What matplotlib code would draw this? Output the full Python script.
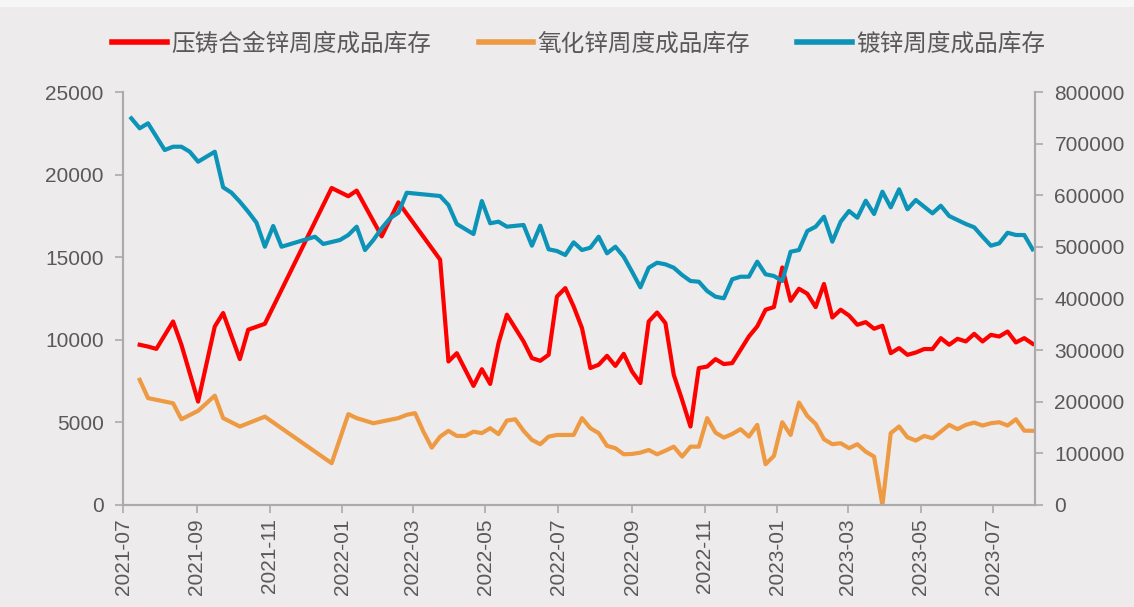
import numpy as np
import pandas as pd
import matplotlib
matplotlib.use("Agg")
import matplotlib.pyplot as plt
import matplotlib.dates as mdates
from matplotlib.patches import Rectangle

plt.rcParams['font.family'] = ['Noto Sans CJK SC', 'DejaVu Sans']

# 周度日期（每周一个点）
start_date = "2021-07-08"
n_weeks = 109
dates = pd.date_range(start_date, periods=n_weeks, freq="7D")

N = None
# 压铸合金锌周度成品库存（左轴）
die_cast = [N, 9700, 9590, 9450, N, 11110, 9700, N, 6260, N,
            10810, 11620, N, 8830, 10610, N, 10970, N, N, N,
            N, N, N, N, 19190, N, 18690, 19030, N, N,
            16260, N, 18320, N, N, N, N, 14850, 8690, 9190,
            N, 7210, 8220, 7330, 9800, 11520, 10710, 9900, 8890, 8730,
            9090, 12620, 13130, 12020, 10710, 8290, 8490, 9030, 8420, 9150,
            8080, 7380, 11110, 11650, 11010, 7880, 6360, 4750, 8290, 8380,
            8830, 8530, 8590, 9390, 10200, 10810, 11820, 11980, 14380, 12360,
            13090, 12790, 11980, 13380, 11350, 11820, 11470, 10910, 11070, 10670,
            10850, 9190, 9500, 9090, 9230, 9440, 9440, 10100, 9700, 10060,
            9900, 10360, 9900, 10300, 10200, 10500, 9840, 10100, 9760]

# 氧化锌周度成品库存（左轴）
zinc_oxide = [N, 7580, 6470, N, N, 6160, 5190, N, 5700, N,
              6620, 5260, N, 4750, N, N, 5350, N, N, N,
              N, N, N, N, 2530, N, 5500, 5260, N, 4950,
              N, N, 5260, 5460, 5560, 4440, 3470, 4140, 4490, 4180,
              4180, 4440, 4350, 4650, 4290, 5110, 5190, 4490, 3940, 3680,
              4140, 4240, 4240, 4240, 5260, 4650, 4350, 3580, 3440, 3070,
              3090, 3170, 3330, 3070, 3290, 3530, 2930, 3530, 3530, 5260,
              4380, 4080, 4300, 4590, 4140, 4850, 2470, 2970, 5010, 4240,
              6200, 5390, 4910, 3980, 3680, 3740, 3440, 3680, 3230, 2930,
              0, 4350, 4750, 4100, 3900, 4180, 4040, 4440, 4850, 4590,
              4850, 4990, 4810, 4950, 5010, 4810, 5190, 4500, 4490]

# 镀锌周度成品库存（右轴）
galvanized = [749000, 729700, 739300, N, 687600, 694000, 694000, 684300, 665000, N,
              684300, 615400, 604900, 587500, 568100, 546800, 500300, 540400, 500300, N,
              N, N, 519700, 505600, N, 513300, 523000, 539100, 493900, 513300,
              536000, 555300, 566200, 604900, N, N, N, 598500, 581100, 544300,
              N, 524900, 588800, 545700, 548800, 539100, N, 542400, 502300, 541000,
              495300, 492000, 484300, 508800, 493900, 498400, 519700, 487500, 500300, 481000,
              451900, 421700, 459600, 469300, 466200, 459600, 445500, 433900, 432500, 414500,
              403500, 400400, 437200, 442200, 442200, 471300, 446900, 443600, 433900, 490600,
              493900, 530700, 539100, 558400, 510000, 548800, 569500, 556500, 589400, 563700,
              606900, 576600, 611500, 572800, 590800, 577800, 565000, 579700, 559800, 552000,
              544300, 537900, 519700, 502300, 506900, 527400, 523000, 523000, 495300]

labels = ["压铸合金锌周度成品库存", "氧化锌周度成品库存", "镀锌周度成品库存"]
colors = ["#FF0000", "#EE9A43", "#0C93B8"]

df = pd.DataFrame({"die": die_cast, "oxide": zinc_oxide, "galv": galvanized},
                  index=dates, dtype=float)

bg = "#EDEBEB"
txt = "#595959"
spine = "#ABABAB"

fig = plt.figure(figsize=(11.34, 6.07), dpi=100, facecolor=bg)
fig.patches.append(Rectangle((0, 1 - 7 / 607), 1, 7 / 607, transform=fig.transFigure,
                             facecolor="#F6F6F6", edgecolor="none", zorder=0))
ax = fig.add_axes([123 / 1134, 1 - 505 / 607, 912 / 1134, 413 / 607])
ax.set_facecolor(bg)
ax2 = ax.twinx()

s = df["die"].dropna()
l1, = ax.plot(s.index, s.values, color=colors[0], lw=3, solid_joinstyle="round")
s = df["oxide"].dropna()
l2, = ax.plot(s.index, s.values, color=colors[1], lw=3, solid_joinstyle="round")
s = df["galv"].dropna()
l3, = ax2.plot(s.index, s.values, color=colors[2], lw=3, solid_joinstyle="round")

ax.set_ylim(0, 25000)
ax.set_yticks(np.arange(0, 25001, 5000))
ax2.set_ylim(0, 800000)
ax2.set_yticks(np.arange(0, 800001, 100000))

ax.set_xlim(pd.Timestamp("2021-07-01"), pd.Timestamp("2023-08-05"))
ax.xaxis.set_major_locator(mdates.MonthLocator(bymonth=[1, 3, 5, 7, 9, 11]))
ax.xaxis.set_major_formatter(mdates.DateFormatter("%Y-%m"))

for a in (ax, ax2):
    for side in ("top",):
        a.spines[side].set_visible(False)
    for side in ("left", "right", "bottom"):
        a.spines[side].set_color(spine)
        a.spines[side].set_linewidth(1.5)
    a.tick_params(colors=spine, labelcolor=txt, length=6, width=1.2)

tick_font = dict(family="Liberation Sans", size=15)
for lab in ax.get_yticklabels() + ax2.get_yticklabels():
    lab.set_fontfamily(tick_font["family"])
    lab.set_fontsize(tick_font["size"])
for lab in ax.get_xticklabels():
    lab.set_fontfamily(tick_font["family"])
    lab.set_fontsize(15)
    lab.set_rotation(90)
ax.tick_params(axis="y", pad=8)
ax2.tick_params(axis="y", pad=8)

leg = fig.legend([l1, l2, l3], labels, loc="center", ncol=3,
                 bbox_to_anchor=(579 / 1134, 1 - 44 / 607), frameon=False,
                 fontsize=17, handlelength=2.3, handletextpad=0.2,
                 columnspacing=2.0)
for t in leg.get_texts():
    t.set_color(txt)
for h in leg.get_lines():
    h.set_linewidth(4)

fig.savefig("out.png", dpi=100, facecolor=bg)
